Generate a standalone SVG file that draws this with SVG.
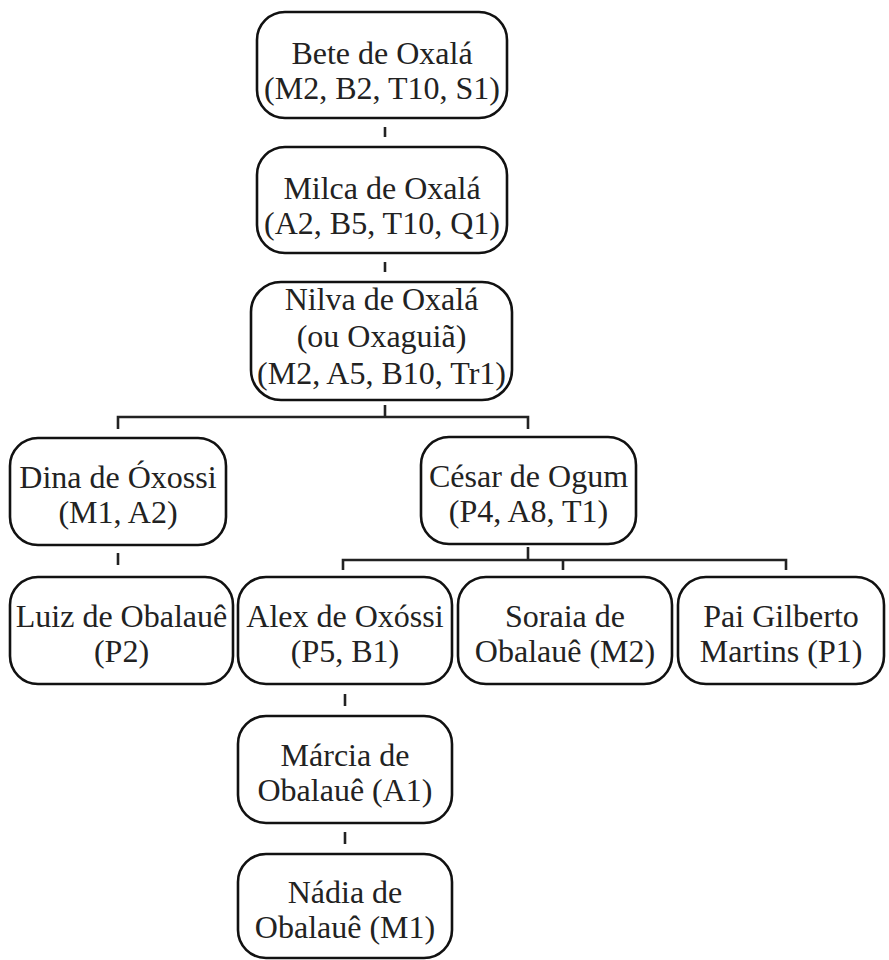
<svg xmlns="http://www.w3.org/2000/svg" width="889" height="960" viewBox="0 0 889 960">
  <style>
    .box { fill: #ffffff; stroke: #111111; stroke-width: 2.6; }
    .lbl { font-family: 'Liberation Serif', 'Times New Roman', 'DejaVu Serif', serif; font-size: 32px; fill: #222222; text-anchor: middle; }
    .conn { fill: none; stroke: #222222; stroke-width: 2.6; }
  </style>
  <rect width="889" height="960" fill="#ffffff"/>
  <g id="connectors">
    <path class="conn" d="M385 127 V137"/>
    <path class="conn" d="M385 262 V272"/>
    <path class="conn" d="M385 405 V417 M118 429 V417 H528 V429"/>
    <path class="conn" d="M118 553 V565"/>
    <path class="conn" d="M528 547 V560 M343 570 V560 H786 V570 M563 560 V570"/>
    <path class="conn" d="M345 694 V706"/>
    <path class="conn" d="M345 832 V844"/>
  </g>
  <g font-family="Liberation Serif, serif">
  <g id="bete">
    <rect class="box" x="257" y="12" width="250" height="106" rx="28"/>
    <text class="lbl" x="382" y="64">Bete de Oxalá</text>
    <text class="lbl" x="382" y="99">(M2, B2, T10, S1)</text>
  </g>
  <g id="milca">
    <rect class="box" x="257" y="147" width="250" height="106" rx="28"/>
    <text class="lbl" x="382" y="199">Milca de Oxalá</text>
    <text class="lbl" x="382" y="234">(A2, B5, T10, Q1)</text>
  </g>
  <g id="nilva">
    <rect class="box" x="251" y="282" width="261" height="118" rx="30"/>
    <text class="lbl" x="381.5" y="310">Nilva de Oxalá</text>
    <text class="lbl" x="381.5" y="347">(ou Oxaguiã)</text>
    <text class="lbl" x="381.5" y="384">(M2, A5, B10, Tr1)</text>
  </g>
  <g id="dina">
    <rect class="box" x="10" y="438" width="216" height="107" rx="28"/>
    <text class="lbl" x="118" y="488">Dina de Óxossi</text>
    <text class="lbl" x="118" y="523">(M1, A2)</text>
  </g>
  <g id="cesar">
    <rect class="box" x="421" y="437" width="215" height="107" rx="28"/>
    <text class="lbl" x="528.5" y="487">César de Ogum</text>
    <text class="lbl" x="528.5" y="522">(P4, A8, T1)</text>
  </g>
  <g id="luiz">
    <rect class="box" x="10" y="577" width="223" height="107" rx="28"/>
    <text class="lbl" x="121.5" y="627">Luiz de Obalauê</text>
    <text class="lbl" x="121.5" y="662">(P2)</text>
  </g>
  <g id="alex">
    <rect class="box" x="238" y="577" width="214" height="107" rx="28"/>
    <text class="lbl" x="345" y="627">Alex de Oxóssi</text>
    <text class="lbl" x="345" y="662">(P5, B1)</text>
  </g>
  <g id="soraia">
    <rect class="box" x="458" y="577" width="214" height="107" rx="28"/>
    <text class="lbl" x="565" y="627">Soraia de</text>
    <text class="lbl" x="565" y="662">Obalauê (M2)</text>
  </g>
  <g id="pai">
    <rect class="box" x="678" y="577" width="206" height="107" rx="28"/>
    <text class="lbl" x="781" y="627">Pai Gilberto</text>
    <text class="lbl" x="781" y="662">Martins (P1)</text>
  </g>
  <g id="marcia">
    <rect class="box" x="238" y="716" width="214" height="107" rx="28"/>
    <text class="lbl" x="345" y="766">Márcia de</text>
    <text class="lbl" x="345" y="801">Obalauê (A1)</text>
  </g>
  <g id="nadia">
    <rect class="box" x="238" y="854" width="214" height="104" rx="28"/>
    <text class="lbl" x="345" y="903">Nádia de</text>
    <text class="lbl" x="345" y="938">Obalauê (M1)</text>
  </g>
  </g>
</svg>
